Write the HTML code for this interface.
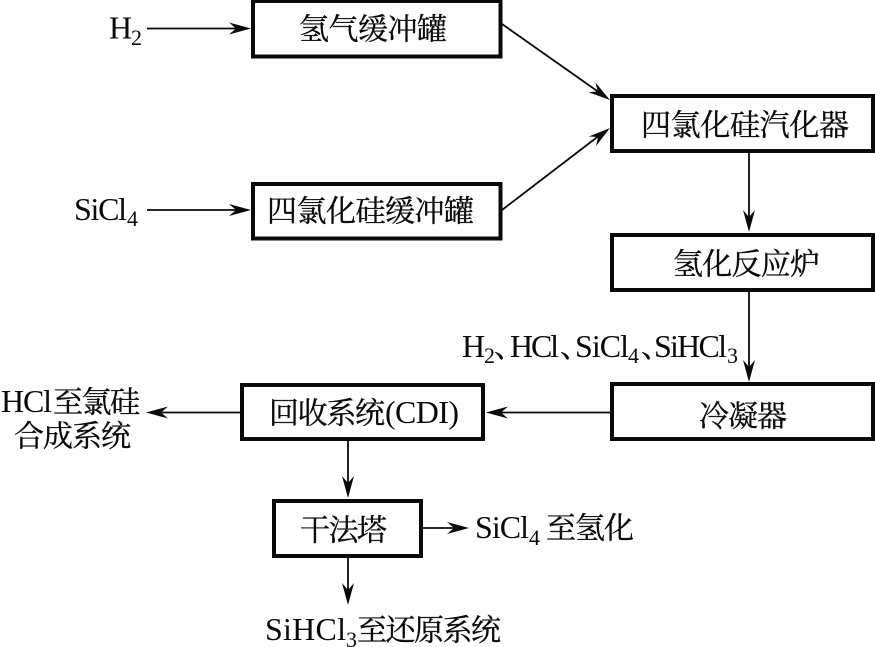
<!DOCTYPE html>
<html><head><meta charset="utf-8">
<style>
html,body{margin:0;padding:0;background:#fff;}
svg{display:block;}
text{fill:#0a0a0a;}
.c{font-family:"Noto Serif CJK SC","Liberation Serif",serif;font-size:30px;stroke:#0a0a0a;stroke-width:.35px;}
.l{font-family:"Liberation Serif","Noto Serif CJK SC",serif;font-size:32px;}
.s{font-family:"Liberation Serif",serif;font-size:22px;}
</style></head><body>
<svg width="875" height="647" viewBox="0 0 875 647" xmlns="http://www.w3.org/2000/svg">
<defs>
<path id="a" d="M0 0L-22 -6L-15 0L-22 6Z" fill="#0a0a0a"/>
</defs>
<g fill="none" stroke="#0a0a0a" stroke-width="4">
<rect x="253" y="1" width="247.500" height="55.500"/>
<rect x="253" y="184" width="247.500" height="54.500"/>
<rect x="612" y="96" width="261" height="55"/>
<rect x="612" y="235" width="261" height="55"/>
<rect x="612" y="384" width="261" height="55"/>
<rect x="242" y="385" width="241" height="54"/>
<rect x="274" y="501" width="147" height="55"/>
</g>
<g fill="none" stroke="#0a0a0a" stroke-width="1.800">
<path d="M147 28.500H240M147 210H240M502 24L600 93M502 210L600 135"/>
<path d="M749 152V222M749 292V372M610 412.500H495M240 412.500H155M348 441V488M348 558V595M423 528H460"/>
</g>
<use href="#a" transform="translate(251 28.500)"/>
<use href="#a" transform="translate(251 210)"/>
<use href="#a" transform="translate(610 100) rotate(35)"/>
<use href="#a" transform="translate(610 128) rotate(-37)"/>
<use href="#a" transform="translate(749 232) rotate(90)"/>
<use href="#a" transform="translate(749 382) rotate(90)"/>
<use href="#a" transform="translate(486 412.500) rotate(180)"/>
<use href="#a" transform="translate(146 412.500) rotate(180)"/>
<use href="#a" transform="translate(348 498) rotate(90)"/>
<use href="#a" transform="translate(348 605) rotate(90)"/>
<use href="#a" transform="translate(469 528)"/>

<text class="l" x="109" y="38.500">H</text><text class="s" x="131" y="45">2</text>
<text class="l" x="74" y="220" textLength="53">SiCl</text><text class="s" x="127" y="226">4</text>

<text class="c" x="299" y="39.500" textLength="148">氢气缓冲罐</text>
<text class="c" x="267" y="221.500" textLength="207">四氯化硅缓冲罐</text>
<text class="c" x="641" y="135.500" textLength="208">四氯化硅汽化器</text>
<text class="c" x="673" y="274.500" textLength="147">氢化反应炉</text>
<text class="c" x="699" y="426.500" textLength="88">冷凝器</text>
<text class="c" x="269" y="423.500" textLength="116">回收系统</text>
<text class="l" x="385" y="423" textLength="74">(CDI)</text>
<text class="c" x="300" y="540.500" textLength="87">干法塔</text>

<text class="l" x="462" y="357">H</text><text class="s" x="484" y="363">2</text>
<text class="c" x="494" y="357">、</text>
<text class="l" x="510" y="357" textLength="49">HCl</text>
<text class="c" x="560" y="357">、</text>
<text class="l" x="575" y="357" textLength="54">SiCl</text><text class="s" x="628" y="363">4</text>
<text class="c" x="641" y="357">、</text>
<text class="l" x="654" y="357" textLength="73">SiHCl</text><text class="s" x="727" y="363">3</text>

<text class="l" x="1" y="412" textLength="51">HCl</text>
<text class="c" x="53" y="412.500" textLength="87">至氯硅</text>
<text class="c" x="14" y="446.500" textLength="117">合成系统</text>

<text class="l" x="475" y="538" textLength="54">SiCl</text><text class="s" x="529" y="545">4</text>
<text class="c" x="546" y="538.500" textLength="88">至氢化</text>

<text class="l" x="265" y="640" textLength="81">SiHCl</text><text class="s" x="346" y="647">3</text>
<text class="c" x="357" y="640.500" textLength="144">至还原系统</text>
</svg>
</body></html>
